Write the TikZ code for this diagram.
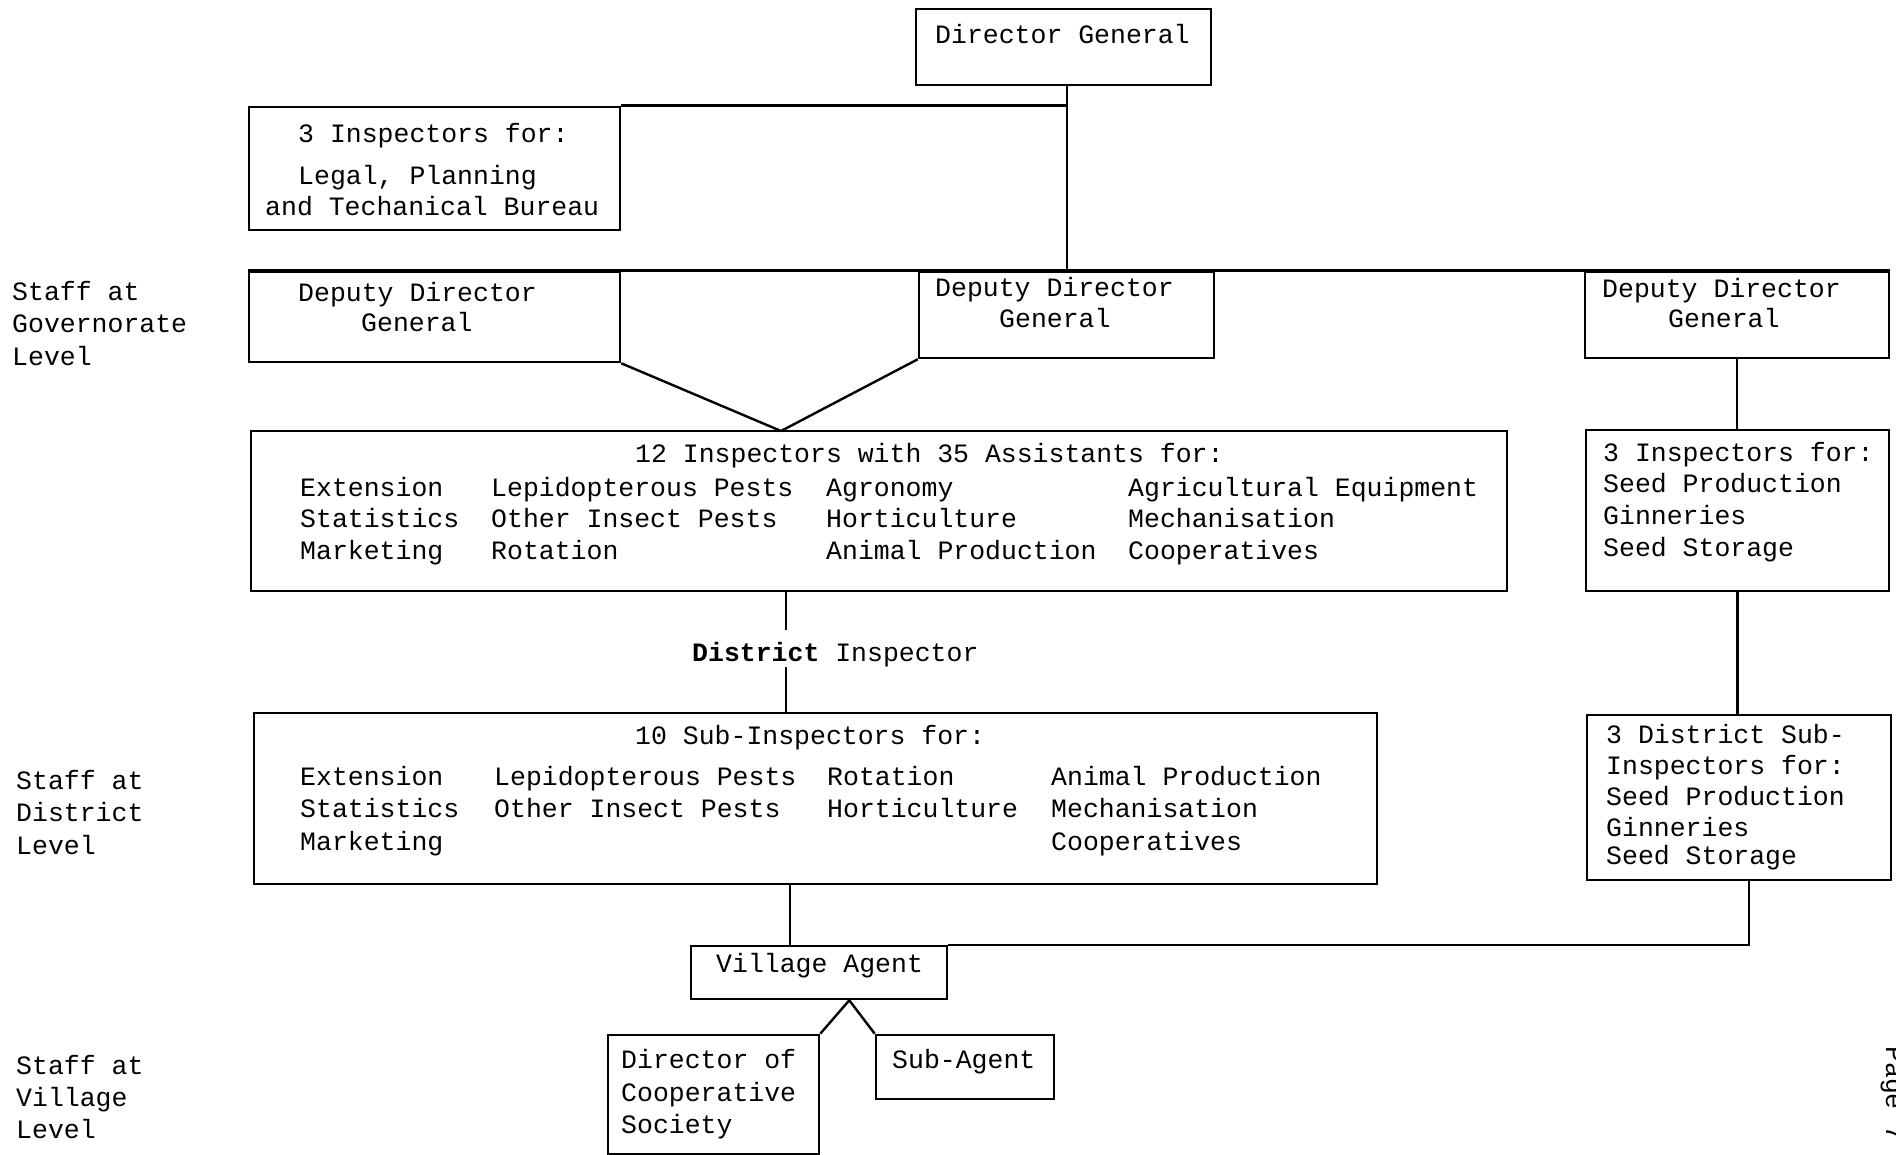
\documentclass[tikz,border=0pt]{standalone}
\usepackage{fontspec}
\newfontfamily\tw{Liberation Mono}
\usetikzlibrary{calc}
\newcommand\mybox[5]{\node[box, minimum width={(#4)-(#2)}, minimum height={(#5)-(#3)}] (#1) at ({((#2)+(#4))/2},{((#3)+(#5))/2}) {};}
\newcommand\tx[4]{\node[lbl] (#1) at (#2,#3) {#4};}
\begin{document}
\begin{tikzpicture}[x=1pt,y=-1pt,
  box/.style={draw, line width=2.6pt, inner sep=0pt, rectangle},
  lbl/.style={anchor=base west, inner sep=0pt, font=\tw\fontsize{26.5}{30}\selectfont},
  con/.style={line width=2.4pt}]
\useasboundingbox[fill=white] (0,0) rectangle (1896,1155);

% boxes
\mybox{dg}{916}{9}{1211}{85}
\mybox{insp3}{249}{107}{620}{230}
\mybox{ddgL}{249}{272}{620}{362}
\mybox{ddgM}{919}{272}{1214}{358}
\mybox{ddgR}{1585}{272}{1889}{358}
\mybox{insp12}{251}{431}{1507}{591}
\mybox{insp3R}{1586}{430}{1889}{591}
\mybox{sub10}{254}{713}{1377}{884}
\mybox{dsub}{1587}{715}{1891}{880}
\mybox{va}{691}{946}{947}{999}
\mybox{doc}{608}{1035}{819}{1154}
\mybox{sag}{876}{1035}{1054}{1099}

% texts
\tx{tdg}{935}{44}{Director General}
\tx{ti1}{298}{143}{3 Inspectors for:}
\tx{ti2}{298}{185}{Legal, Planning}
\tx{ti3}{265}{216}{and Techanical Bureau}
\tx{tl1}{298}{302}{Deputy Director}
\tx{tl2}{361}{332}{General}
\tx{tm1}{935}{297}{Deputy Director}
\tx{tm2}{999}{328}{General}
\tx{tr1}{1602}{298}{Deputy Director}
\tx{tr2}{1668}{328}{General}

\tx{th12}{635}{462}{12 Inspectors with 35 Assistants for:}
\tx{ta1}{300}{496}{Extension}
\tx{ta2}{300}{527}{Statistics}
\tx{ta3}{300}{559}{Marketing}
\tx{tb1}{491}{496}{Lepidopterous Pests}
\tx{tb2}{491}{527}{Other Insect Pests}
\tx{tb3}{491}{559}{Rotation}
\tx{tc1}{826}{496}{Agronomy}
\tx{tc2}{826}{527}{Horticulture}
\tx{tc3}{826}{559}{Animal Production}
\tx{td1}{1128}{496}{Agricultural Equipment}
\tx{td2}{1128}{527}{Mechanisation}
\tx{td3}{1128}{559}{Cooperatives}

\tx{tq1}{1603}{461}{3 Inspectors for:}
\tx{tq2}{1603}{492}{Seed Production}
\tx{tq3}{1603}{524}{Ginneries}
\tx{tq4}{1603}{556}{Seed Storage}

\tx{tdi}{692}{661}{{\bfseries District} Inspector}

\tx{th10}{635}{744}{10 Sub-Inspectors for:}
\tx{te1}{300}{785}{Extension}
\tx{te2}{300}{817}{Statistics}
\tx{te3}{300}{850}{Marketing}
\tx{tf1}{494}{785}{Lepidopterous Pests}
\tx{tf2}{494}{817}{Other Insect Pests}
\tx{tg1}{827}{785}{Rotation}
\tx{tg2}{827}{817}{Horticulture}
\tx{th1}{1051}{785}{Animal Production}
\tx{th2}{1051}{817}{Mechanisation}
\tx{th3}{1051}{850}{Cooperatives}

\tx{ts1}{1606}{743}{3 District Sub-}
\tx{ts2}{1606}{774}{Inspectors for:}
\tx{ts3}{1606}{805}{Seed Production}
\tx{ts4}{1606}{836}{Ginneries}
\tx{ts5}{1606}{864}{Seed Storage}

\tx{tva}{716}{972}{Village Agent}
\tx{to1}{621}{1068}{Director of}
\tx{to2}{621}{1101}{Cooperative}
\tx{to3}{621}{1133}{Society}
\tx{tsa}{892}{1068}{Sub-Agent}

\tx{lg1}{12}{301}{Staff at}
\tx{lg2}{12}{333}{Governorate}
\tx{lg3}{12}{366}{Level}
\tx{ld1}{16}{789}{Staff at}
\tx{ld2}{16}{821}{District}
\tx{ld3}{16}{854}{Level}
\tx{lv1}{16}{1074}{Staff at}
\tx{lv2}{16}{1106}{Village}
\tx{lv3}{16}{1138}{Level}

\node[lbl, rotate=-90] (pg) at (1886,1046) {Page 7};

% connector coordinates
\coordinate (dgx) at (1067,0);
\coordinate (apex) at (781,431);
\coordinate (da) at (786,630);
\coordinate (db) at (786,667);
\coordinate (vx) at (790,0);
\coordinate (sx) at (1749,0);
\coordinate (vap) at ($(va.south west)!0.617!(va.south east)$);

% connectors
\draw[con] (dgx |- dg.south) -- (dgx |- ddgM.north);
\draw[con] (insp3.north east) -- (dgx |- insp3.north);
\draw[con] (ddgL.north west) -- (ddgR.north east);
\draw[con] (ddgL.south east) -- (apex) -- (ddgM.south west);
\draw[con] (ddgR.south) -- (ddgR.south |- insp3R.north);
\draw[con] (insp3R.south) -- (insp3R.south |- dsub.north);
\draw[con] (da |- insp12.south) -- (da);
\draw[con] (db) -- (db |- sub10.north);
\draw[con] (vx |- sub10.south) -- (vx |- va.north);
\draw[con] (sx |- dsub.south) |- (va.north east);
\draw[con] (doc.north east) -- (vap) -- (sag.north west);
\end{tikzpicture}
\end{document}
